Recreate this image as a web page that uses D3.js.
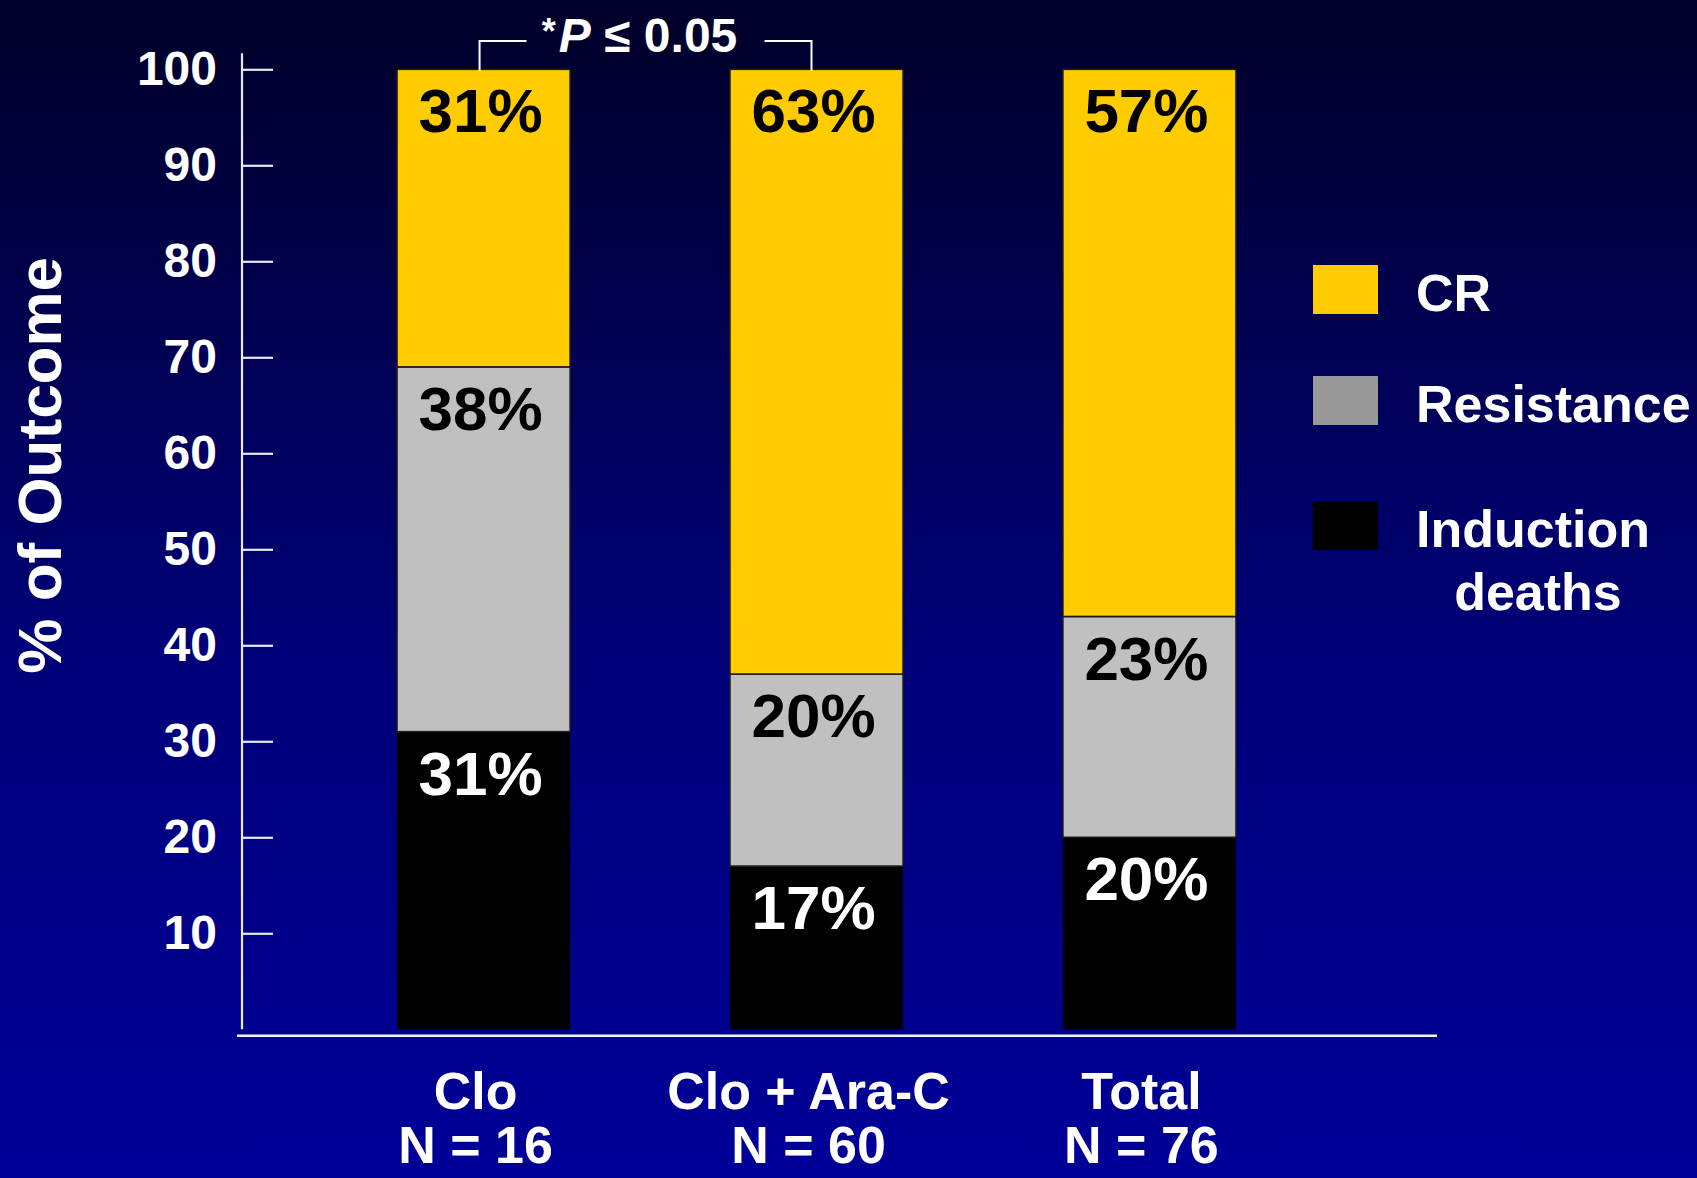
<!DOCTYPE html>
<html>
<head>
<meta charset="utf-8">
<script src="https://cdn.jsdelivr.net/npm/d3@7"></script>
<style>
  html, body { margin: 0; padding: 0; overflow: hidden; background: #000050; }
  svg { display: block; }
  text { font-family: "Liberation Sans", Arial, Helvetica, sans-serif; font-weight: bold; }
</style>
</head>
<body>
<svg id="chart" width="1697" height="1178"></svg>
<script>
// Induction outcome by treatment group (percent of patients)
const categories = ["Clo", "Clo + Ara-C", "Total"];
const groupSizes = ["N = 16", "N = 60", "N = 76"];
const inductionDeaths = [31, 17, 20];
const resistance = [38, 20, 23];
const completeRemission = [31, 63, 57];
const yTicks = [10, 20, 30, 40, 50, 60, 70, 80, 90, 100];
const seriesKeys = ["deaths", "resistance", "cr"];           // stacked bottom to top
const legendLabels = [["CR"], ["Resistance"], ["Induction", "deaths"]];
const significanceText = ["*", "P", " \u2264 0.05"];

const table = categories.map((c, i) => ({
  category: c,
  n: groupSizes[i],
  deaths: inductionDeaths[i],
  resistance: resistance[i],
  cr: completeRemission[i]
}));

const fills = { cr: "#ffcc00", resistance: "#c0c0c0", deaths: "#000000" };
const labelColors = { cr: "#000000", resistance: "#000000", deaths: "#ffffff" };
const legendFills = { cr: "#ffcc00", resistance: "#999999", deaths: "#000000" };

const W = 1697, H = 1178;
const svg = d3.select("#chart");

// background: dark navy fading to blue
const defs = svg.append("defs");
const grad = defs.append("linearGradient").attr("id", "bg")
  .attr("x1", 0).attr("y1", 0).attr("x2", 0).attr("y2", 1);
grad.append("stop").attr("offset", "0%").attr("stop-color", "#000028");
grad.append("stop").attr("offset", "55%").attr("stop-color", "#000078");
grad.append("stop").attr("offset", "100%").attr("stop-color", "#000098");
svg.append("rect").attr("width", W).attr("height", H).attr("fill", "url(#bg)");

const y = d3.scaleLinear().domain([0, 100]).range([1029.3, 69.3]);
const x = d3.scaleBand().domain(categories)
  .range([397, 1236]).paddingInner(0.48).paddingOuter(0);
const axisX = 242;

// y axis
const yAxis = d3.axisLeft(y).tickValues(yTicks).tickSizeInner(-31).tickSizeOuter(0).tickPadding(25);
const gy = svg.append("g").attr("transform", `translate(${axisX},0)`).call(yAxis);
gy.select(".domain").remove();
gy.selectAll(".tick line").attr("stroke", "#e8e8f0").attr("stroke-width", 2.2);
gy.selectAll(".tick text").attr("fill", "#ffffff").attr("font-size", 48)
  .attr("font-family", "'Liberation Sans', Arial, sans-serif").attr("font-weight", "bold");
svg.append("line")
  .attr("x1", axisX).attr("x2", axisX)
  .attr("y1", y(100) - 16).attr("y2", y(0))
  .attr("stroke", "#e8e8f0").attr("stroke-width", 2.2);

// baseline
svg.append("line")
  .attr("x1", axisX - 5).attr("x2", 1437)
  .attr("y1", y(0) + 6.5).attr("y2", y(0) + 6.5)
  .attr("stroke", "#f0f0f8").attr("stroke-width", 2.5);

// y axis title
svg.append("text")
  .attr("transform", `translate(61,${(y(0) + y(100)) / 2 - 84}) rotate(-90)`)
  .attr("text-anchor", "middle").attr("fill", "#ffffff").attr("font-size", 62)
  .text("% of Outcome");

// stacked bars
const stacked = d3.stack().keys(seriesKeys)(table);
const layers = svg.append("g").selectAll("g").data(stacked).join("g");
layers.selectAll("rect").data(s => s.map(d => ({ key: s.key, d }))).join("rect")
  .attr("x", p => x(p.d.data.category))
  .attr("width", x.bandwidth())
  .attr("y", p => y(p.d[1]))
  .attr("height", p => y(p.d[0]) - y(p.d[1]))
  .attr("fill", p => fills[p.key])
  .attr("stroke", p => p.key === "deaths" ? "none" : "#1a1a1a")
  .attr("stroke-width", 1.6);

// segment value labels
layers.selectAll("text").data(s => s.map(d => ({ key: s.key, d }))).join("text")
  .attr("x", p => x(p.d.data.category) + x.bandwidth() / 2 - 3)
  .attr("y", p => y(p.d[1]) + 63)
  .attr("text-anchor", "middle")
  .attr("font-size", 62)
  .attr("fill", p => labelColors[p.key])
  .text(p => `${p.d.data[p.key]}%`);

// category labels
const cat = svg.append("g").selectAll("g").data(table).join("g")
  .attr("transform", d => `translate(${x(d.category) + x.bandwidth() / 2 - 8},0)`);
cat.append("text").attr("y", 1109).attr("text-anchor", "middle")
  .attr("fill", "#ffffff").attr("font-size", 52).text(d => d.category);
cat.append("text").attr("y", 1163).attr("text-anchor", "middle")
  .attr("fill", "#ffffff").attr("font-size", 52).text(d => d.n);

// significance bracket between the first two groups
const bx1 = x(categories[0]) + x.bandwidth() / 2 - 4;
const bx2 = x(categories[1]) + x.bandwidth() / 2 - 5;
const by = 41;
const bracket = svg.append("g").attr("stroke", "#ffffff").attr("stroke-width", 2).attr("fill", "none");
bracket.append("path").attr("d", `M${bx1},${y(100) + 2}V${by}H${bx1 + 47}`);
bracket.append("path").attr("d", `M${bx2 - 47},${by}H${bx2}V${y(100) + 2}`);
const sig = svg.append("text").attr("x", (bx1 + bx2) / 2 - 6).attr("y", 52)
  .attr("text-anchor", "middle").attr("fill", "#ffffff").attr("font-size", 48);
sig.append("tspan").attr("font-size", 36).attr("dy", -8).text(significanceText[0]);
sig.append("tspan").attr("font-style", "italic").attr("dy", 8).attr("dx", 3).text(significanceText[1]);
sig.append("tspan").text(significanceText[2]);

// legend (top to bottom: CR, Resistance, Induction deaths)
const legendOrder = ["cr", "resistance", "deaths"];
const swatchTops = [265, 376, 501];
const legend = svg.append("g").selectAll("g").data(legendOrder).join("g");
legend.append("rect")
  .attr("x", 1313).attr("y", (k, i) => swatchTops[i])
  .attr("width", 65).attr("height", 49)
  .attr("fill", k => legendFills[k]);
legend.each(function (k, i) {
  const lines = legendLabels[i];
  const g = d3.select(this);
  g.append("text").attr("x", 1416).attr("y", swatchTops[i] + 46)
    .attr("fill", "#ffffff").attr("font-size", 52).text(lines[0]);
  if (lines.length > 1) {
    g.append("text").attr("x", 1538).attr("y", swatchTops[i] + 109)
      .attr("text-anchor", "middle").attr("fill", "#ffffff").attr("font-size", 52).text(lines[1]);
  }
});
</script>
</body>
</html>
